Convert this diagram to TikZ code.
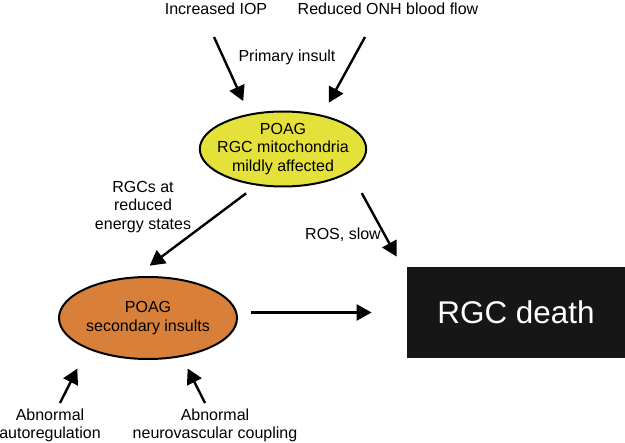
\documentclass[tikz,border=0pt]{standalone}
\usepackage{fontspec}
\setmainfont{Liberation Sans}
\usetikzlibrary{arrows.meta,calc,shapes.geometric}
\definecolor{poagyellow}{RGB}{228,226,58}
\definecolor{poagorange}{RGB}{216,128,58}
\definecolor{deathblack}{RGB}{22,22,22}

\begin{document}
\begin{tikzpicture}[x=0.5pt,y=-0.5pt,
    txt/.style={inner sep=0pt,align=center,font=\fontsize{8}{9.25}\selectfont},
    blob/.style={ellipse,draw=black,line width=1pt,inner sep=0pt,txt},
    arr/.style={line width=1.2pt,-{Triangle[length=7.5pt,width=8pt]}}]
  \useasboundingbox (0,0) rectangle (625,443);
  % inputs
  \node[txt] (iop) at (216,9) {Increased IOP};
  \node[txt] (onh) at (388,9) {Reduced ONH blood flow};
  \node[txt] (prim) at (287,57) {Primary insult};
  % main nodes
  \node[blob,fill=poagyellow,inner xsep=-3.5pt,inner ysep=-2pt,
    minimum width=83pt,minimum height=37.5pt] (poag) at (283,149)
    {POAG\\RGC mitochondria\\mildly affected};
  \node[blob,fill=poagorange,minimum width=89pt,minimum height=41pt] (sec) at (148,318)
    {POAG\\secondary insults};
  \node[fill=deathblack,text=white,inner sep=0pt,minimum width=109pt,minimum height=45.5pt,
    font=\fontsize{15.7}{18}\selectfont] (death) at (516,312.5) {RGC death};
  % labels
  \node[txt] (energy) at (143,207) {RGCs at\\reduced\\energy states};
  \node[txt] (ros) at (343,235) {ROS, slow};
  \node[txt] (autoreg) at (50,425.5) {Abnormal\\autoregulation};
  \node[txt] (neuro) at (215,425.5) {Abnormal\\neurovascular coupling};
  % arrows
  \draw[arr,shorten >=7pt] ($(iop)+(-2,28)$) -- (poag.134);
  \draw[arr,shorten >=7pt] ($(onh)+(-23,28)$) -- (poag.41);
  \draw[arr,shorten <=6.5pt,shorten >=9pt] (poag.234) -- (sec.107);
  \draw[arr,shorten <=12pt] (poag.-19) -- ($(death.north west)+(-10,-10)$);
  \draw[arr,shorten <=6.5pt,shorten >=17.5pt] (sec.east |- death.west) -- (death.west);
  \draw[arr,shorten >=11pt] ($(autoreg)+(10,-22.5)$) -- (sec.207);
  \draw[arr,shorten >=6.5pt] ($(neuro)+(-10,-22.5)$) -- (sec.-49);
\end{tikzpicture}
\end{document}
